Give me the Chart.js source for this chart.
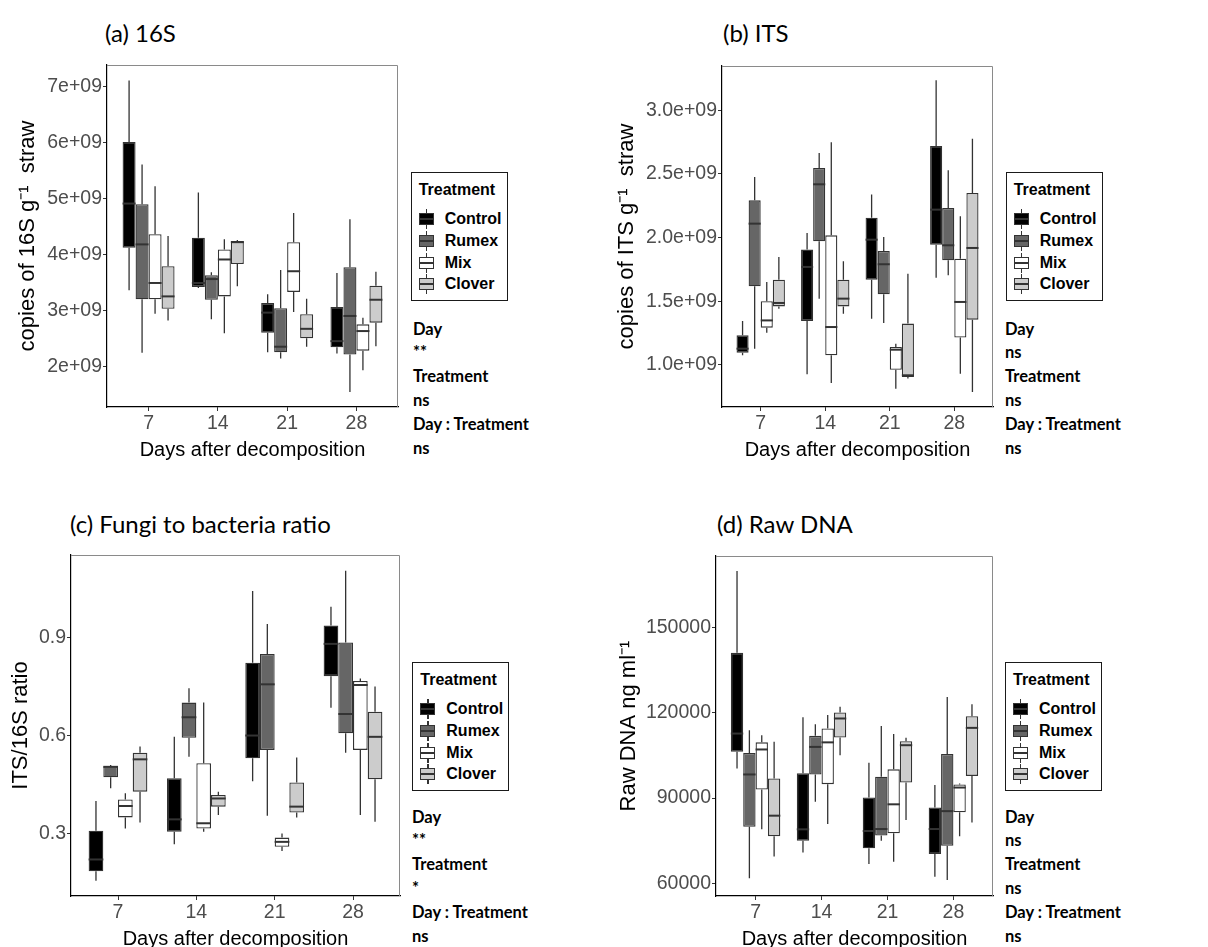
<!DOCTYPE html>
<html>
<head>
<meta charset="utf-8">
<script src="https://cdn.jsdelivr.net/npm/chart.js@4.4.0/dist/chart.umd.min.js"></script>
<style>
  body { margin:0; width:1208px; height:947px; overflow:hidden; background:#fff; position:relative; }
  canvas { position:absolute; }
  .ptitle { position:absolute; font-family:Lato, sans-serif; font-size:24px; line-height:24px; color:#000; white-space:nowrap; }
  .stats { position:absolute; font-family:Lato, sans-serif; font-weight:bold; font-size:16.5px; line-height:23.8px; color:#000; white-space:nowrap; }
  .legend { position:absolute; width:97px; height:129px; box-sizing:border-box; border:1.4px solid #1a1a1a; font-family:"Liberation Sans", Arial, sans-serif; font-weight:bold; font-size:16px; color:#000; }
  .legend .lt { position:absolute; left:7px; top:9px; line-height:16px; white-space:nowrap; }
  .legend .li { position:absolute; left:33px; line-height:16px; white-space:nowrap; }
  .legend .key { position:absolute; left:7px; width:15px; height:20px; }
  .key .wh { position:absolute; left:7px; top:0; width:1.3px; height:20px; background:#333; }
  .key .bx { position:absolute; left:0; top:4px; width:15px; height:12px; box-sizing:border-box; border:1.3px solid #333; }
  .key .md { position:absolute; left:0; top:9px; width:15px; height:2px; background:#333; }
</style>
</head>
<body>
<script>
const days = ["7", "14", "21", "28"];
const treatments = ["Control", "Rumex", "Mix", "Clover"];

// each entry: [min, q1, median, q3, max] for days 7, 14, 21, 28
const s16Control = [[3.36e9, 4.12e9, 4.91e9, 6.01e9, 7.11e9], [3.40e9, 3.42e9, 3.49e9, 4.30e9, 5.11e9], [2.25e9, 2.60e9, 2.96e9, 3.13e9, 3.29e9], [2.23e9, 2.34e9, 2.45e9, 3.06e9, 3.67e9]];
const s16Rumex = [[2.24e9, 3.20e9, 4.18e9, 4.90e9, 5.61e9], [2.84e9, 3.19e9, 3.56e9, 3.63e9, 3.68e9], [2.14e9, 2.25e9, 2.35e9, 3.04e9, 3.72e9], [1.54e9, 2.21e9, 2.90e9, 3.77e9, 4.63e9]];
const s16Mix = [[2.94e9, 3.20e9, 3.49e9, 4.36e9, 5.22e9], [2.59e9, 3.25e9, 3.91e9, 4.09e9, 4.27e9], [2.97e9, 3.33e9, 3.70e9, 4.22e9, 4.74e9], [1.93e9, 2.28e9, 2.63e9, 2.75e9, 2.87e9]];
const s16Clover = [[2.82e9, 3.03e9, 3.25e9, 3.79e9, 4.33e9], [3.43e9, 3.83e9, 4.22e9, 4.24e9, 4.26e9], [2.35e9, 2.50e9, 2.67e9, 2.93e9, 3.21e9], [2.36e9, 2.78e9, 3.19e9, 3.44e9, 3.69e9]];

const itsControl = [[1.076e9, 1.097e9, 1.128e9, 1.233e9, 1.346e9], [0.927e9, 1.346e9, 1.77e9, 1.906e9, 2.037e9], [1.364e9, 1.67e9, 1.984e9, 2.157e9, 2.338e9], [1.686e9, 1.945e9, 2.22e9, 2.72e9, 3.236e9]];
const itsRumex = [[1.128e9, 1.618e9, 2.11e9, 2.293e9, 2.476e9], [1.521e9, 1.971e9, 2.419e9, 2.547e9, 2.665e9], [1.33e9, 1.555e9, 1.791e9, 1.895e9, 2.005e9], [1.704e9, 1.822e9, 1.94e9, 2.233e9, 2.529e9]];
const itsMix = [[1.254e9, 1.293e9, 1.35e9, 1.5e9, 1.652e9], [0.859e9, 1.076e9, 1.298e9, 2.018e9, 2.75e9], [0.814e9, 0.963e9, 1.12e9, 1.141e9, 1.167e9], [0.932e9, 1.215e9, 1.495e9, 1.835e9, 2.168e9]];
const itsClover = [[1.442e9, 1.46e9, 1.487e9, 1.67e9, 1.848e9], [1.403e9, 1.46e9, 1.521e9, 1.67e9, 1.814e9], [0.893e9, 0.906e9, 0.919e9, 1.325e9, 1.717e9], [0.788e9, 1.356e9, 1.919e9, 2.351e9, 2.777e9]];

const ratioControl = [[0.155, 0.184, 0.220, 0.308, 0.399], [0.267, 0.305, 0.343, 0.469, 0.596], [0.46, 0.53, 0.60, 0.823, 1.043], [0.685, 0.782, 0.881, 0.937, 0.995]];
const ratioRumex = [[0.438, 0.472, 0.504, 0.506, 0.51], [0.535, 0.593, 0.656, 0.701, 0.745], [0.354, 0.556, 0.757, 0.85, 0.942], [0.547, 0.607, 0.666, 0.885, 1.105]];
const ratioMix = [[0.315, 0.349, 0.384, 0.404, 0.423], [0.305, 0.315, 0.331, 0.515, 0.701], [0.246, 0.259, 0.274, 0.287, 0.30], [0.356, 0.556, 0.755, 0.767, 0.775]];
const ratioClover = [[0.333, 0.428, 0.527, 0.547, 0.566], [0.356, 0.382, 0.407, 0.418, 0.428], [0.349, 0.364, 0.382, 0.456, 0.533], [0.336, 0.466, 0.596, 0.673, 0.75]];

const dnaControl = [[100400, 106300, 112700, 141100, 169900], [70800, 75000, 79000, 98700, 118400], [66800, 72300, 78400, 90200, 102400], [62300, 70300, 79100, 86700, 94600]];
const dnaRumex = [[61800, 79900, 98300, 105900, 113900], [88700, 98300, 108000, 111900, 116000], [75000, 76800, 79100, 97500, 115400], [61200, 73200, 85400, 105500, 125600]];
const dnaMix = [[79000, 93000, 107100, 109600, 112100], [80900, 94900, 109600, 114500, 119200], [67600, 77600, 87800, 100100, 112500], [76600, 85000, 93700, 94800, 95100]];
const dnaClover = [[69400, 76600, 83800, 96900, 109800], [105100, 111300, 118000, 120100, 122100], [82300, 95500, 108600, 110000, 111200], [81400, 97800, 114700, 118800, 123000]];

const ticks16s = [2e9, 3e9, 4e9, 5e9, 6e9, 7e9];
const labels16s = ["2e+09", "3e+09", "4e+09", "5e+09", "6e+09", "7e+09"];
const ticksIts = [1.0e9, 1.5e9, 2.0e9, 2.5e9, 3.0e9];
const labelsIts = ["1.0e+09", "1.5e+09", "2.0e+09", "2.5e+09", "3.0e+09"];
const ticksRatio = [0.3, 0.6, 0.9];
const labelsRatio = ["0.3", "0.6", "0.9"];
const ticksDna = [60000, 90000, 120000, 150000];
const labelsDna = ["60000", "90000", "120000", "150000"];

const stats16s = ["Day", "**", "Treatment", "ns", "Day : Treatment", "ns"];
const statsIts = ["Day", "ns", "Treatment", "ns", "Day : Treatment", "ns"];
const statsRatio = ["Day", "**", "Treatment", "*", "Day : Treatment", "ns"];
const statsDna = ["Day", "ns", "Treatment", "ns", "Day : Treatment", "ns"];

const fills = ["#000000", "#666666", "#ffffff", "#cccccc"];
const tickFont = { family: "'Liberation Sans', Arial, sans-serif", size: 19.5 };

const panels = [
  { title: "(a) 16S", yTitle: "copies of 16S g\u207B\u00B9  straw", series: [s16Control, s16Rumex, s16Mix, s16Clover],
    ticks: ticks16s, labels: labels16s, min: 1.272e9, max: 7.388e9, stats: stats16s,
    box: { x: 0, y: 50, w: 405, h: 415 }, area: { l: 107, t: 65, r: 398, b: 407 }, yPad: 15, xPad: 3,
    titleAt: [105, 20.7], legendAt: [410.7, 172], statsAt: [413, 317.7] },
  { title: "(b) ITS", yTitle: "copies of ITS g\u207B\u00B9  straw", series: [itsControl, itsRumex, itsMix, itsClover],
    ticks: ticksIts, labels: labelsIts, min: 0.67e9, max: 3.348e9, stats: statsIts,
    box: { x: 600, y: 50, w: 400, h: 415 }, area: { l: 722, t: 66, r: 993, b: 407 }, yPad: 14, xPad: 3,
    titleAt: [723, 20.7], legendAt: [1005.7, 172], statsAt: [1005, 317.7] },
  { title: "(c) Fungi to bacteria ratio", yTitle: "ITS/16S ratio", series: [ratioControl, ratioRumex, ratioMix, ratioClover],
    ticks: ticksRatio, labels: labelsRatio, min: 0.108, max: 1.1535, stats: statsRatio,
    box: { x: 0, y: 540, w: 405, h: 420 }, area: { l: 71, t: 555, r: 400, b: 896 }, yPad: 8, xPad: 9,
    titleAt: [70, 511.7], legendAt: [412.3, 662], statsAt: [412, 805.7] },
  { title: "(d) Raw DNA", yTitle: "Raw DNA ng ml\u207B\u00B9", series: [dnaControl, dnaRumex, dnaMix, dnaClover],
    ticks: ticksDna, labels: labelsDna, min: 55535, max: 175180, stats: statsDna,
    box: { x: 600, y: 540, w: 400, h: 420 }, area: { l: 716, t: 556, r: 993, b: 896 }, yPad: 16, xPad: 9,
    titleAt: [717, 511.7], legendAt: [1005, 662], statsAt: [1005, 805.7] }
];

// whiskers under the boxes, medians and the grey top/right frame over them
const boxWhiskers = {
  id: "boxWhiskers",
  beforeDatasetsDraw(chart) {
    const ctx = chart.ctx, y = chart.scales.y;
    ctx.save();
    ctx.strokeStyle = "#333";
    ctx.lineWidth = 1.3;
    chart.data.datasets.forEach((ds, d) => {
      chart.getDatasetMeta(d).data.forEach((bar, i) => {
        const s = ds.stats[i];
        ctx.beginPath();
        ctx.moveTo(bar.x, y.getPixelForValue(s[4]));
        ctx.lineTo(bar.x, y.getPixelForValue(s[3]));
        ctx.moveTo(bar.x, y.getPixelForValue(s[1]));
        ctx.lineTo(bar.x, y.getPixelForValue(s[0]));
        ctx.stroke();
      });
    });
    ctx.restore();
  },
  afterDatasetsDraw(chart) {
    const ctx = chart.ctx, y = chart.scales.y, a = chart.chartArea;
    ctx.save();
    ctx.strokeStyle = "#333";
    ctx.lineWidth = 2;
    chart.data.datasets.forEach((ds, d) => {
      chart.getDatasetMeta(d).data.forEach((bar, i) => {
        const py = y.getPixelForValue(ds.stats[i][2]);
        ctx.beginPath();
        ctx.moveTo(bar.x - bar.width / 2, py);
        ctx.lineTo(bar.x + bar.width / 2, py);
        ctx.stroke();
      });
    });
    ctx.strokeStyle = "#8a8a8a";
    ctx.lineWidth = 1;
    ctx.beginPath();
    ctx.moveTo(a.left, a.top + 0.5);
    ctx.lineTo(a.right - 0.5, a.top + 0.5);
    ctx.lineTo(a.right - 0.5, a.bottom);
    ctx.stroke();
    ctx.restore();
  }
};

function makePanel(p) {
  const canvas = document.createElement("canvas");
  canvas.width = p.box.w;
  canvas.height = p.box.h;
  canvas.style.left = p.box.x + "px";
  canvas.style.top = p.box.y + "px";
  document.body.appendChild(canvas);

  const datasets = p.series.map((series, k) => ({
    label: treatments[k],
    data: series.map((s, i) => ({ x: i + 1, y: [s[1], s[3]] })),
    stats: series,
    backgroundColor: fills[k],
    borderColor: "#333",
    borderWidth: 1.3,
    borderSkipped: false,
    categoryPercentage: 0.75,
    barPercentage: 1
  }));

  new Chart(canvas, {
    type: "bar",
    data: { datasets: datasets },
    plugins: [boxWhiskers],
    options: {
      responsive: false,
      animation: false,
      layout: { padding: { top: p.area.t - p.box.y, right: p.box.x + p.box.w - p.area.r, left: 0, bottom: 0 } },
      plugins: { legend: { display: false }, tooltip: { enabled: false } },
      scales: {
        x: {
          type: "linear", min: 0.4, max: 4.6, offset: false,
          afterBuildTicks: s => { s.ticks = days.map((d, i) => ({ value: i + 1 })); },
          afterFit: s => { s.height = p.box.y + p.box.h - p.area.b; },
          ticks: { callback: (v, i) => days[i], font: tickFont, color: "#4d4d4d", padding: 1, maxRotation: 0, autoSkip: false },
          grid: { drawOnChartArea: false, offset: false, tickLength: 4, color: "#333" },
          border: { color: "#000", width: 1.2 },
          title: { display: true, text: "Days after decomposition", color: "#000",
                   font: { family: "'Liberation Sans', Arial, sans-serif", size: 20 }, padding: { top: 0, bottom: p.xPad } }
        },
        y: {
          type: "linear", min: p.min, max: p.max,
          afterBuildTicks: s => { s.ticks = p.ticks.map(v => ({ value: v })); },
          afterFit: s => { s.width = p.area.l - p.box.x; },
          ticks: { callback: (v, i) => p.labels[i], font: tickFont, color: "#4d4d4d", padding: 1, autoSkip: false },
          grid: { drawOnChartArea: false, tickLength: 4, color: "#333" },
          border: { color: "#000", width: 1.2 },
          title: { display: true, text: p.yTitle, color: "#000",
                   font: { family: "'Liberation Sans', Arial, sans-serif", size: 22 }, padding: { top: p.yPad - 0.6, bottom: 0 } }
        }
      }
    }
  });

  const t = document.createElement("div");
  t.className = "ptitle";
  t.textContent = p.title;
  t.style.left = p.titleAt[0] + "px";
  t.style.top = p.titleAt[1] + "px";
  document.body.appendChild(t);

  const lg = document.createElement("div");
  lg.className = "legend";
  lg.style.left = p.legendAt[0] + "px";
  lg.style.top = p.legendAt[1] + "px";
  let html = '<div class="lt">Treatment</div>';
  treatments.forEach((name, k) => {
    const c = 46 + k * 21.8;
    html += '<div class="key" style="top:' + (c - 10) + 'px"><div class="wh"></div><div class="bx" style="background:' + fills[k] + '"></div><div class="md"></div></div>';
    html += '<div class="li" style="top:' + (c - 8) + 'px">' + name + '</div>';
  });
  lg.innerHTML = html;
  document.body.appendChild(lg);

  const st = document.createElement("div");
  st.className = "stats";
  st.style.left = p.statsAt[0] + "px";
  st.style.top = p.statsAt[1] + "px";
  st.innerHTML = p.stats.join("<br>");
  document.body.appendChild(st);
}

document.addEventListener("DOMContentLoaded", function () {
  panels.forEach(makePanel);
});
</script>
</body>
</html>
